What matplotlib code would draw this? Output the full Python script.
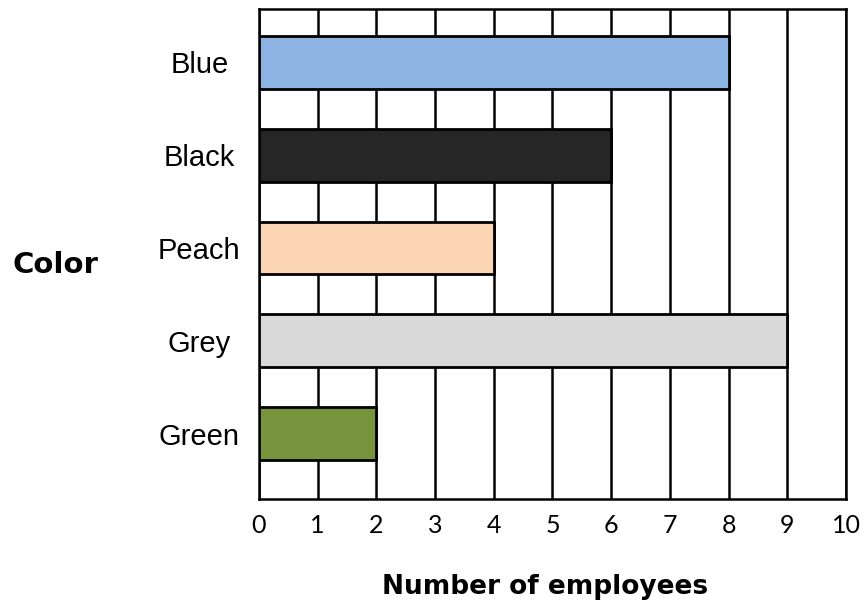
import matplotlib.pyplot as plt

colors_names = ["Green", "Grey", "Peach", "Black", "Blue"]
employees = [2, 9, 4, 6, 8]
bar_colors = ["#77933c", "#d9d9d9", "#fcd5b5", "#262626", "#8db3e2"]
x_ticks = list(range(0, 11))

fig = plt.figure(figsize=(8.67, 6.04), dpi=100)
ax = fig.add_axes([0.2987, 0.1738, 0.9758 - 0.2987, 0.985 - 0.1738])

ypos = list(range(len(colors_names)))
ax.barh(ypos, employees, height=0.57, color=bar_colors,
        edgecolor="black", linewidth=2, zorder=3)

ax.set_xlim(0, 10)
ax.set_ylim(-0.7, 4.57)
ax.set_xticks(x_ticks)
ax.set_xticklabels([str(t) for t in x_ticks], family="Lato", fontsize=18)
ax.xaxis.grid(True, color="black", linewidth=1.8, zorder=1)
ax.set_axisbelow(True)
ax.tick_params(axis="x", length=0, pad=11)

ax.set_yticks(ypos)
ax.set_yticklabels(colors_names, family="Liberation Sans", fontsize=21, ha="center")
ax.tick_params(axis="y", length=0, pad=43)

for s in ax.spines.values():
    s.set_linewidth(1.8)
    s.set_color("black")

# axis titles (Verdana-like bold)
fig.text(545 / 867, 1 - 587 / 604, "Number of employees", family="DejaVu Sans",
         fontsize=19, fontweight="bold", ha="center", va="center")
fig.text(55 / 867, 1 - 265 / 604, "Color", family="DejaVu Sans", fontsize=21,
         fontweight="bold", ha="center", va="center")

fig.savefig("out.png", dpi=100)
